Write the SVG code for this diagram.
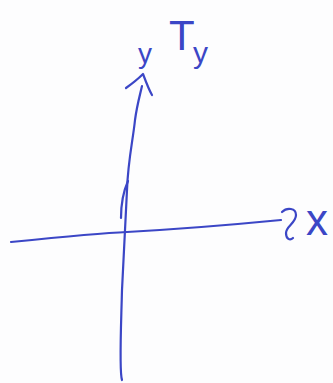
<svg xmlns="http://www.w3.org/2000/svg" width="333" height="383" viewBox="0 0 333 383">
<style>
.pen{fill:none;stroke:#3b46c6;stroke-width:2.2;stroke-linecap:round;stroke-linejoin:round}
.lbl{font-family:"Liberation Sans",sans-serif;fill:#3b46c6;font-weight:normal}
</style>
<rect width="333" height="383" fill="#fdfdfe"/>
<g id="connectors">
<path class="pen" d="M11,242 C60,237 100,233 127,232 C180,229 240,224 281,220"/>
<path class="pen" d="M282,212 C287,207 296,208 296,215 C296,223 286,226 286,233 C286,239 290,241 293,238"/>
<path class="pen" d="M122,380 C119,372 121,330 122,290 C124,250 126,215 127,190 C128,160 133,140 135,120 C137,105 140,95 142,86"/>
<path class="pen" d="M121,218 C121,200 124,190 128,181"/>
<path class="pen" d="M126,88 C133,83 139,78 143,74 C146,82 149,90 152,95"/>
</g>
<g id="label-y">
<text class="lbl" x="138" y="63" font-size="28">y</text>
</g>
<g id="label-Ty">
<text class="lbl" x="169" y="50" font-size="42">T</text>
<text class="lbl" x="193" y="63" font-size="30">y</text>
</g>
<g id="label-x">
<text class="lbl" x="306" y="235" font-size="44">x</text>
</g>
</svg>
